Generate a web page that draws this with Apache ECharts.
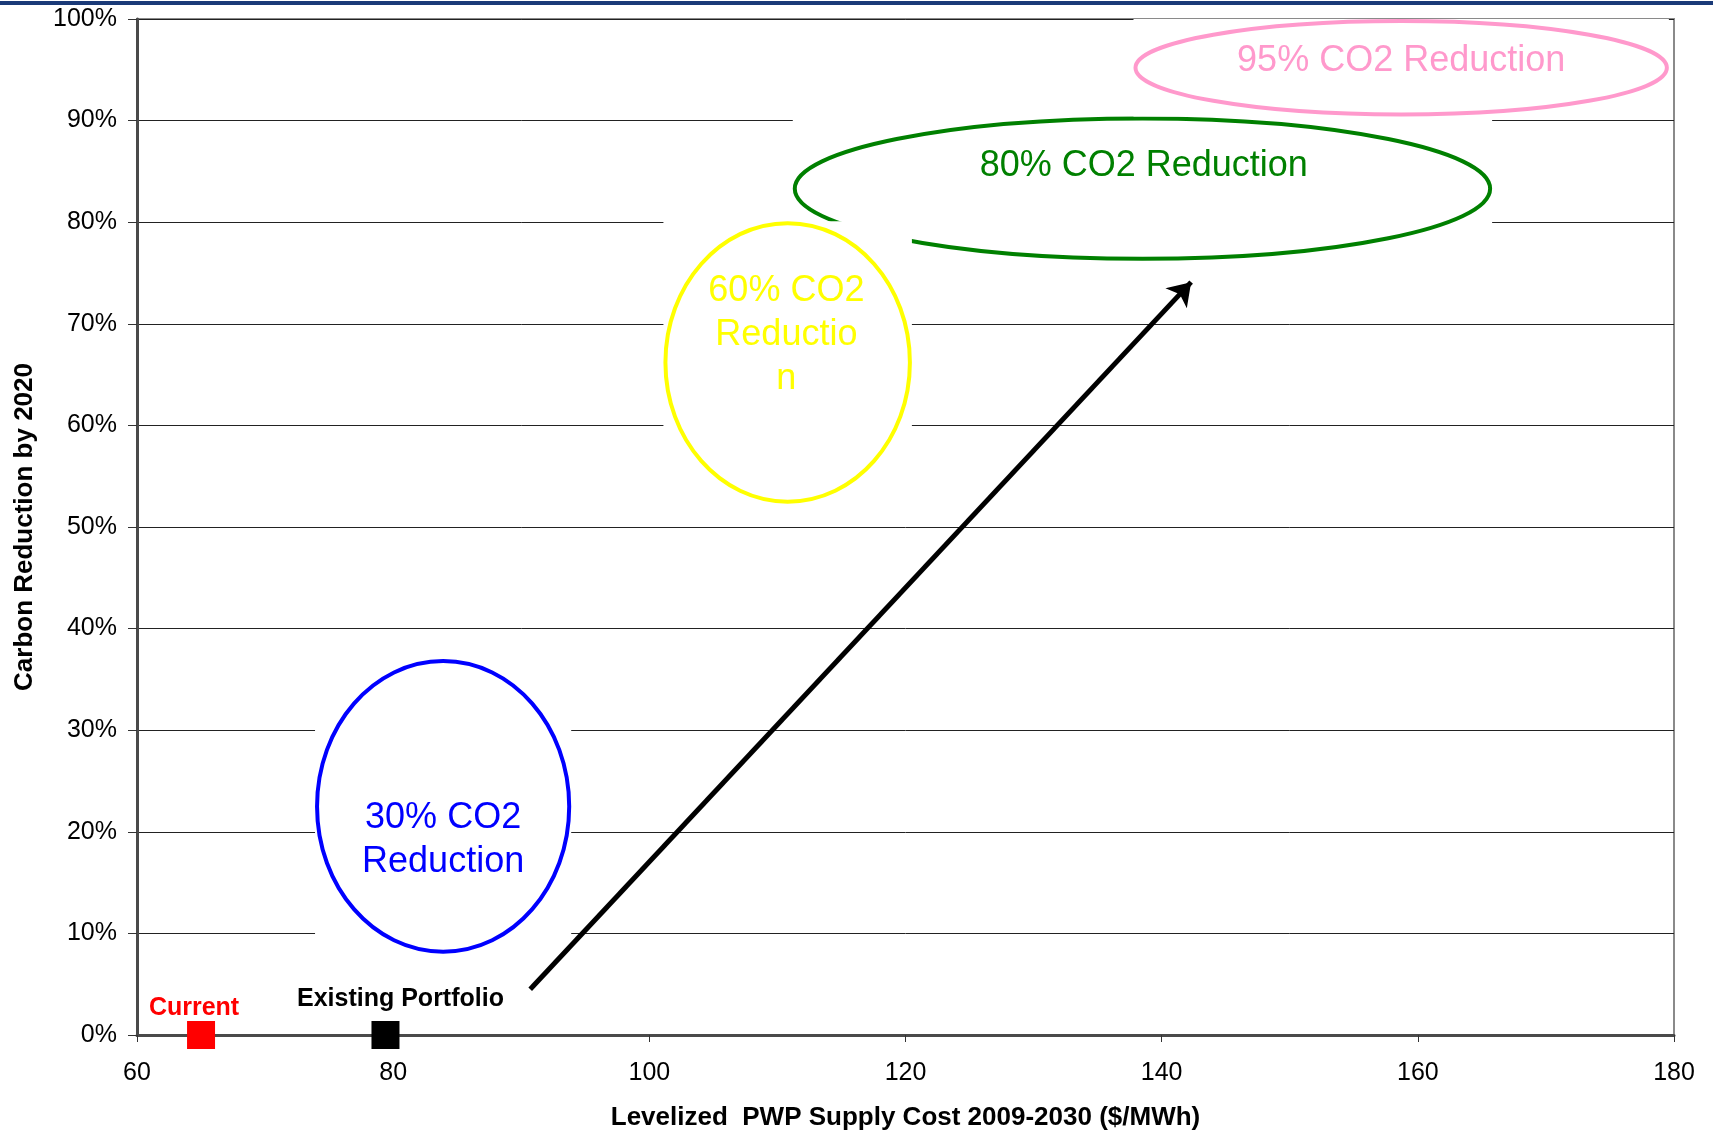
<!DOCTYPE html>
<html>
<head>
<meta charset="utf-8">
<script src="https://cdn.jsdelivr.net/npm/echarts@6/dist/echarts.min.js"></script>
<style>
  html, body { margin: 0; padding: 0; background: #fff; }
  #chart { width: 1713px; height: 1130px; }
</style>
</head>
<body>
<div id="chart"></div>
<script>
// Axis scales
const costMin = 60, costMax = 180, costStep = 20;
const reductionMin = 0, reductionMax = 100, reductionStep = 10;

// Portfolio points (cost $/MWh, carbon reduction %)
const pointNames = ['Current', 'Existing Portfolio'];
const pointCost = [65, 79.4];
const pointReduction = [0, 0];

// Reduction target zones: centre and half-extent in axis units
const targetLabels = ['80% CO2 Reduction', '95% CO2 Reduction', '60% CO2\nReductio\nn', '30% CO2\nReduction'];
const targetCost = [138.5, 158.7, 110.8, 83.9];
const targetReduction = [83.3, 95.2, 66.2, 22.5];
const targetCostHalf = [27.3, 20.9, 9.7, 10.0];
const targetReductionHalf = [7.1, 4.8, 13.9, 14.5];
const targetLabelCost = [138.6, 158.7, 110.7, 83.9];
const targetLabelReduction = [85.5, 95.9, 68.9, 19.2];

// Trend arrow from the existing portfolio towards the deep-cut zone
const arrowFrom = [90.7, 4.5];
const arrowTo = [142.3, 74.1];

const targetColors = ['#008000', '#FF99CC', '#FFFF00', '#0000FF'];
const pointColors = ['#FF0000', '#000000'];
const FONT = '"Liberation Sans", Arial, sans-serif';

const zoneData = targetLabels.map((_, i) => [
  targetCost[i], targetReduction[i], targetCostHalf[i], targetReductionHalf[i],
  targetLabelCost[i], targetLabelReduction[i]
]);

const chart = echarts.init(document.getElementById('chart'), null, { renderer: 'canvas' });

chart.setOption({
  animation: false,
  backgroundColor: '#ffffff',
  graphic: [{
    type: 'rect',
    shape: { x: 0, y: 1, width: 1713, height: 4 },
    style: { fill: '#1a3a78' },
    z: 100
  }],
  grid: {
    left: 137, right: 39, top: 19, bottom: 95,
    outerBoundsMode: 'none',
    containLabel: false,
    show: true, borderColor: '#8a8a8a', borderWidth: 2, backgroundColor: '#ffffff'
  },
  xAxis: {
    type: 'value',
    min: costMin, max: costMax, interval: costStep,
    name: 'Levelized  PWP Supply Cost 2009-2030 ($/MWh)',
    nameLocation: 'middle', nameGap: 70,
    nameTextStyle: { fontFamily: FONT, fontSize: 26, fontWeight: 'bold', color: '#000' },
    axisLine: { show: true, onZero: false, lineStyle: { color: '#4a4a4a', width: 3 } },
    axisTick: { show: true, length: 7, lineStyle: { color: '#333', width: 1 } },
    axisLabel: { fontFamily: FONT, fontSize: 25, color: '#000', margin: 26 },
    splitLine: { show: false }
  },
  yAxis: {
    type: 'value',
    min: reductionMin, max: reductionMax, interval: reductionStep,
    name: 'Carbon Reduction by 2020',
    nameLocation: 'middle', nameGap: 99, nameRotate: 90,
    nameTextStyle: { fontFamily: FONT, fontSize: 26, fontWeight: 'bold', color: '#000' },
    axisLine: { show: true, lineStyle: { color: '#4a4a4a', width: 3 } },
    axisTick: { show: true, length: 9, lineStyle: { color: '#333', width: 1 } },
    axisLabel: { fontFamily: FONT, fontSize: 25, color: '#000', margin: 20, formatter: '{value}%' },
    splitLine: { show: true, lineStyle: { color: '#222', width: 1 } }
  },
  series: [
    {
      type: 'custom',
      name: 'Targets',
      coordinateSystem: 'cartesian2d',
      clip: false,
      encode: { x: 0, y: 1 },
      data: zoneData,
      renderItem: function (params, api) {
        const i = params.dataIndex;
        const c = api.coord([api.value(0), api.value(1)]);
        const s = api.size([api.value(2), api.value(3)]);
        const t = api.coord([api.value(4), api.value(5)]);
        return {
          type: 'group',
          children: [
            {
              type: 'rect',
              shape: { x: c[0] - s[0], y: c[1] - s[1], width: 2 * s[0], height: 2 * s[1] },
              style: { fill: '#ffffff' }
            },
            {
              type: 'ellipse',
              shape: { cx: c[0], cy: c[1], rx: s[0] - 2, ry: s[1] - 2 },
              style: { fill: 'none', stroke: targetColors[i], lineWidth: 4 }
            },
            {
              type: 'text',
              x: t[0], y: t[1],
              style: {
                text: targetLabels[i],
                fill: targetColors[i],
                fontFamily: FONT,
                fontSize: 36,
                lineHeight: 44,
                align: 'center',
                verticalAlign: 'middle'
              }
            }
          ]
        };
      }
    },
    {
      type: 'lines',
      name: 'Trend',
      coordinateSystem: 'cartesian2d',
      z: 5,
      symbol: ['none', 'arrow'],
      symbolSize: 22,
      lineStyle: { color: '#000', width: 5, opacity: 1 },
      data: [{ coords: [arrowFrom, arrowTo] }]
    },
    {
      type: 'scatter',
      name: pointNames[0],
      clip: false,
      z: 6,
      symbol: 'rect',
      symbolSize: 28,
      itemStyle: { color: pointColors[0], opacity: 1 },
      label: {
        show: true, position: 'top', distance: 0, offset: [-7, 0],
        formatter: pointNames[0],
        fontFamily: FONT, fontSize: 25, fontWeight: 'bold', color: pointColors[0], opacity: 1
      },
      data: [[pointCost[0], pointReduction[0]]]
    },
    {
      type: 'scatter',
      name: pointNames[1],
      clip: false,
      z: 6,
      symbol: 'rect',
      symbolSize: 28,
      itemStyle: { color: pointColors[1], opacity: 1 },
      label: {
        show: true, position: 'top', distance: 9, offset: [15, 0],
        formatter: pointNames[1],
        fontFamily: FONT, fontSize: 25, fontWeight: 'bold', color: pointColors[1], opacity: 1
      },
      data: [[pointCost[1], pointReduction[1]]]
    }
  ]
});
</script>
</body>
</html>
